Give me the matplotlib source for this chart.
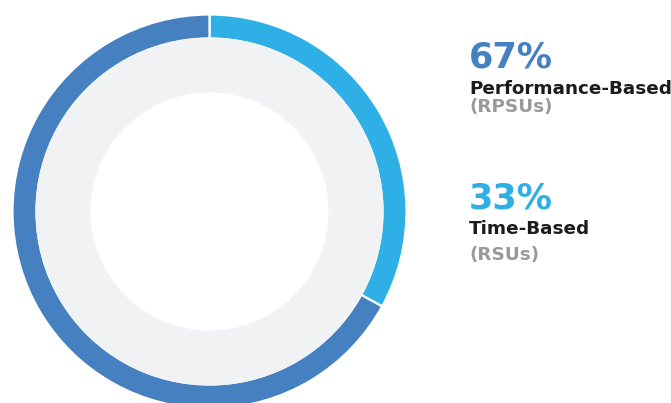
import matplotlib
matplotlib.use("Agg")
import matplotlib.pyplot as plt

# Data
categories = ["Time-Based", "Performance-Based"]
sublabels = ["(RSUs)", "(RPSUs)"]
values = [33, 67]
colors = ["#2EB0E6", "#4580C0"]

W, H = 671, 403
fig = plt.figure(figsize=(W / 100, H / 100), dpi=100)
ax = fig.add_axes([0, 0, 1, 1])

cx, cy = 209.5, H - 211.5
R_outer = 197
ring_w = 24
R_inner_gray = 119

# outer coloured ring
ax.pie(values, radius=R_outer, center=(cx, cy), colors=colors, startangle=90,
       counterclock=False,
       wedgeprops=dict(width=ring_w, edgecolor="white", linewidth=1.6))

# light gray inner band (drawn on top to hide inner edge stroke)
gray_r = R_outer - ring_w + 1
wedges, _ = ax.pie([1], radius=gray_r, center=(cx, cy), colors=["#F1F2F4"],
                   wedgeprops=dict(width=gray_r - R_inner_gray, linewidth=0))
for w in wedges:
    w.set_zorder(5)

ax.set_xlim(0, W)
ax.set_ylim(0, H)
ax.set_aspect("equal")
ax.axis("off")

x0 = 469
fam = "DejaVu Sans"
blocks = [
    (values[1], categories[1], sublabels[1], colors[1], (67.3, 94.3, 111.7)),
    (values[0], categories[0], sublabels[0], colors[0], (208.3, 234.0, 260.0)),
]
for val, cat, sub, col, (b1, b2, b3) in blocks:
    ax.text(x0, H - b1, f"{val}%", color=col, fontsize=25.3, fontweight="bold",
            family=fam, ha="left", va="baseline")
    ax.text(x0, H - b2, cat, color="#1C1C1C", fontsize=13.2, fontweight="bold",
            family=fam, ha="left", va="baseline")
    ax.text(x0, H - b3, sub, color="#9A9A9A", fontsize=13.2, fontweight="bold",
            family=fam, ha="left", va="baseline")

fig.savefig("out.png", dpi=100)
